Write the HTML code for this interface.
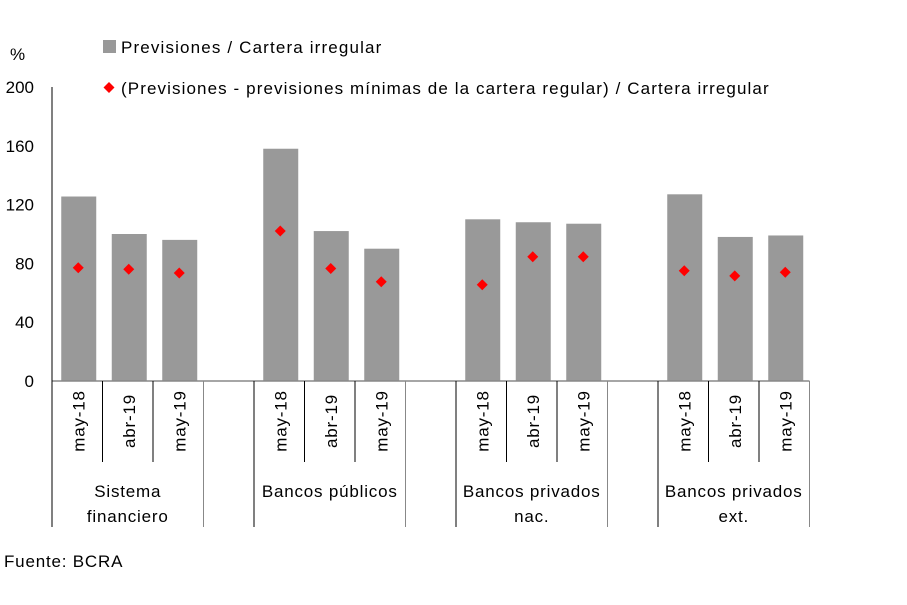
<!DOCTYPE html>
<html><head><meta charset="utf-8"><style>
body{margin:0;background:#fff;}
svg{display:block;font-family:"Liberation Sans",sans-serif;}
.lbl{letter-spacing:0.8px;}
</style></head><body>
<svg id="c" width="907" height="605" viewBox="0 0 907 605"></svg>
<script>
const groups=["Sistema|financiero","Bancos públicos","Bancos privados|nac.","Bancos privados|ext."];
const periods=["may-18","abr-19","may-19"];
const barValues=[125.5,100,96,158,102,90,110,108,107,127,98,99];
const diamondValues=[77,76,73.5,102,76.5,67.5,65.5,84.5,84.5,75,71.5,74];
const yTicks=[0,40,80,120,160,200];
const NS="http://www.w3.org/2000/svg";
const svg=document.getElementById('c');
const x0=52,slot=50.5,y0=381,yTop=87,yMax=200;
const y=v=>y0-(y0-yTop)*v/yMax;
const slotIndex=i=>Math.floor(i/3)*4+(i%3);
const xc=i=>x0+slot*(slotIndex(i)+0.5)+1;
function el(t,a,txt){const e=document.createElementNS(NS,t);for(const k in a)e.setAttribute(k,a[k]);if(txt!=null)e.textContent=txt;svg.appendChild(e);return e;}
yTicks.forEach(v=>{const t=el('text',{x:34,y:y(v)+6,'text-anchor':'end','font-size':17,fill:'#000'},v);

});
const pct=el('text',{x:10,y:60,'font-size':17},'%');

barValues.forEach((v,i)=>{const r=el('rect',{x:xc(i)-17,y:y(v),width:35,height:y0-y(v),fill:'#999'});

});
diamondValues.forEach((v,i)=>{const cx=xc(i),cy=y(v),s=5.5;
const p=el('polygon',{points:`${cx},${cy-s} ${cx+s},${cy} ${cx},${cy+s} ${cx-s},${cy}`,fill:'#f00'});

});
el('line',{x1:x0,y1:y0,x2:x0+slot*15,y2:y0,stroke:'#888','stroke-width':1.5});
el('line',{x1:x0,y1:yTop,x2:x0,y2:y0,stroke:'#000','stroke-width':1});
groups.forEach((g,gi)=>{
 const gs=x0+slot*gi*4, ge=gs+slot*3;
 el('line',{x1:gs,y1:y0,x2:gs,y2:527,stroke:'#000'});
 el('line',{x1:ge,y1:y0,x2:ge,y2:527,stroke:'#888'});
 for(let k=1;k<3;k++)el('line',{x1:gs+slot*k,y1:y0,x2:gs+slot*k,y2:462,stroke:'#000'});
 periods.forEach((p,k)=>{const cx=gs+slot*(k+0.5)+1;
  const t=el('text',{x:0,y:0,'font-size':17,'text-anchor':'middle',class:'lbl',transform:`translate(${cx+6},421) rotate(-90)`},p);
  });
 const lines=g.split('|');
 lines.forEach((ln,li)=>{const t=el('text',{x:(gs+ge)/2,y:497+li*25,'font-size':17,'text-anchor':'middle',class:'lbl'},ln);
  });
});
el('rect',{x:103,y:40,width:13,height:13,fill:'#999'});
const l1=el('text',{x:121,y:53,'font-size':17,'letter-spacing':'1.15px'},'Previsiones / Cartera irregular');

el('polygon',{points:'109,82 114.5,87.5 109,93 103.5,87.5',fill:'#f00'});
const l2=el('text',{x:121,y:94,'font-size':17,'letter-spacing':'1.1px'},'(Previsiones - previsiones mínimas de la cartera regular) / Cartera irregular');

const src=el('text',{x:4,y:567,'font-size':17,class:'lbl'},'Fuente: BCRA');

</script>
</body></html>
